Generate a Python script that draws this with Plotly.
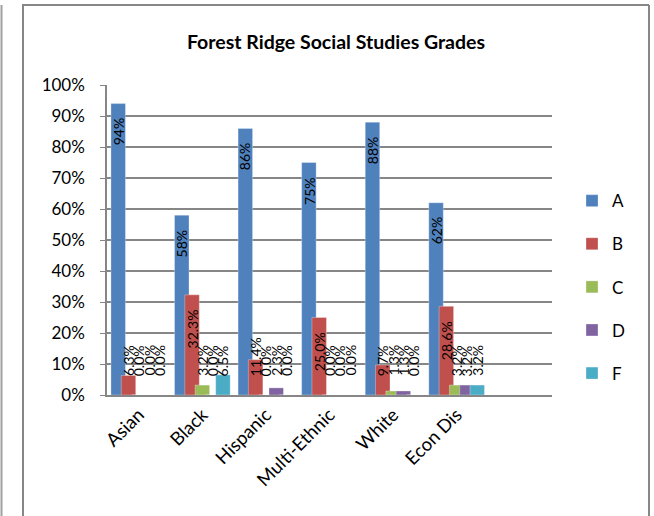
import plotly.graph_objects as go

# Grade distribution by student group (fraction of students)
groups = ["Asian", "Black", "Hispanic", "Multi-Ethnic", "White", "Econ Dis"]
grade_a = [0.94, 0.58, 0.86, 0.75, 0.88, 0.62]
grade_b = [0.063, 0.323, 0.114, 0.250, 0.097, 0.286]
grade_c = [0.0, 0.032, 0.0, 0.0, 0.013, 0.032]
grade_d = [0.0, 0.0, 0.023, 0.0, 0.013, 0.032]
grade_f = [0.0, 0.065, 0.0, 0.0, 0.0, 0.032]

series = [
    ("A", grade_a, "#4F81BD", "{:.0%}"),
    ("B", grade_b, "#C0504D", "{:.1%}"),
    ("C", grade_c, "#9BBB59", "{:.1%}"),
    ("D", grade_d, "#8064A2", "{:.1%}"),
    ("F", grade_f, "#4BACC6", "{:.1%}"),
]

FONT = "Lato"
W, H = 654, 516
ML, MR, MT, MB = 107, 102, 85, 121
plot_h = H - MT - MB

bar_w = 0.228      # bar width in category units
step = 0.162       # spacing between bar centres (bars overlap slightly)
label_size = 14

fig = go.Figure()
annotations = []
for k, (name, vals, color, fmt) in enumerate(series):
    centre = (k - 2) * step
    fig.add_trace(go.Bar(
        x=list(range(len(groups))), y=vals, name=name,
        marker=dict(color=color, line=dict(width=0.6, color="rgba(255,255,255,0.5)")),
        width=bar_w, offset=centre - bar_w / 2,
        legendgroup=name,
    ))
    for i, v in enumerate(vals):
        txt = fmt.format(v)
        label_len = len(txt) * 7.5
        bar_px = v * plot_h
        if bar_px >= label_len + 36:
            # label tucked inside the top of the bar
            annotations.append(dict(x=i + centre, y=v, xref="x", yref="y", text=txt,
                                    textangle=-90, showarrow=False, yanchor="top",
                                    yshift=-14, borderpad=0,
                                    font=dict(family=FONT, size=label_size, color="black")))
        else:
            annotations.append(dict(x=i + centre, y=0, xref="x", yref="y", text=txt,
                                    textangle=-90, showarrow=False, yanchor="bottom",
                                    yshift=18, borderpad=0,
                                    font=dict(family=FONT, size=label_size, color="black")))

# outer chart frame
pw = W - ML - MR
def px_x(p):
    return (p - ML) / pw
def px_y(p):
    return (H - MB - p) / plot_h

shapes = [
    dict(type="line", xref="paper", yref="paper", x0=px_x(23), x1=px_x(23), y0=px_y(5), y1=px_y(520),
         line=dict(color="#878787", width=2)),
    dict(type="line", xref="paper", yref="paper", x0=px_x(22), x1=px_x(649), y0=px_y(5), y1=px_y(5),
         line=dict(color="#878787", width=2)),
    dict(type="line", xref="paper", yref="paper", x0=px_x(649), x1=px_x(649), y0=px_y(5), y1=px_y(520),
         line=dict(color="#878787", width=2)),
    dict(type="line", xref="paper", yref="paper", x0=px_x(1.5), x1=px_x(1.5), y0=px_y(5), y1=px_y(520),
         line=dict(color="#A0A0A0", width=2)),
]

fig.update_layout(
    width=W, height=H,
    margin=dict(l=ML, r=MR, t=MT, b=MB),
    paper_bgcolor="white", plot_bgcolor="white",
    barmode="overlay",
    title=dict(text="<b>Forest Ridge Social Studies Grades</b>", x=px_x(336), xanchor="center",
               xref="paper", y=1 - 42 / H, yanchor="middle",
               font=dict(family=FONT, size=19.5, color="black")),
    font=dict(family=FONT, size=17, color="black"),
    xaxis=dict(
        tickmode="array", tickvals=list(range(len(groups))), ticktext=groups,
        range=[-0.5, 6.5], tickangle=-45, showgrid=False, zeroline=False,
        showline=True, linecolor="#868686", linewidth=1.5, ticks="",
        tickfont=dict(family=FONT, size=18.5),
    ),
    yaxis=dict(
        range=[0, 1], dtick=0.1, tickformat=".0%", showgrid=True,
        gridcolor="#868686", gridwidth=1.5, zeroline=False,
        showline=True, linecolor="#868686", linewidth=1.5,
        ticks="outside", ticklen=5, tickcolor="#868686",
        tickfont=dict(family=FONT, size=17), ticklabelstandoff=12,
    ),
    legend=dict(x=1.045, xanchor="left", y=0.348, yanchor="middle",
                font=dict(family=FONT, size=17), tracegroupgap=18,
                bgcolor="rgba(0,0,0,0)"),
    annotations=annotations,
    shapes=shapes,
)

fig.write_html("out.html")
